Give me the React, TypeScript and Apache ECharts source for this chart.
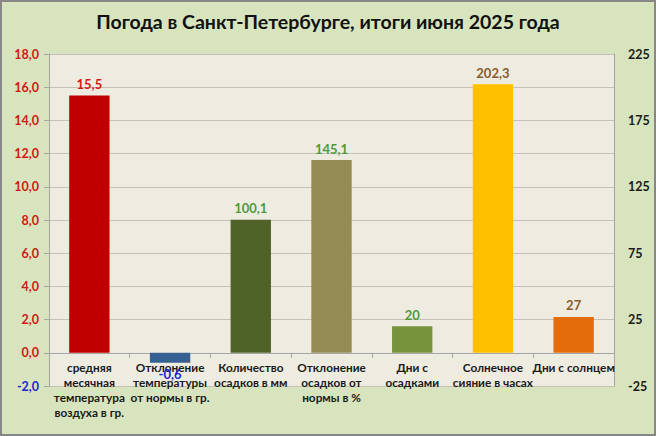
import React, { useEffect, useRef } from "react";
import * as echarts from "echarts";

// Monthly weather summary, St. Petersburg, June 2025
const categories = [
  "средняя\nмесячная\nтемпература\nвоздуха в гр.",
  "Отклонение\nтемпературы\nот нормы в гр.",
  "Количество\nосадков в мм",
  "Отклонение\nосадков от\nнормы в %",
  "Дни с\nосадками",
  "Солнечное\nсияние в часах",
  "Дни с солнцем",
];

// Temperature values (left axis, °C)
const temperatureValues: (number | null)[] = [15.5, -0.6, null, null, null, null, null];
// Precipitation / sunshine values (right axis)
const otherValues: (number | null)[] = [null, null, 100.1, 145.1, 20, 202.3, 27];

const barColors = ["#C00000", "#376092", "#4F6228", "#948A54", "#77933C", "#FFC000", "#E46C0A"];
const labelColors = ["#D01818", "#2424D0", "#4E9A3A", "#4E9A3A", "#4E9A3A", "#8B5A2B", "#8B5A2B"];

const leftTicks = { min: -2, max: 18, step: 2 };
const rightTicks = { min: -25, max: 225, step: 25, labelStep: 50 };

const FONT = "Lato, 'Liberation Sans', sans-serif";

const GRID_TOP = 54;
const GRID_BOTTOM = 50;
const CHART_H = 436;
// distance in pixels between the bottom of the plot (-2) and the zero line
const zeroOffset =
  ((CHART_H - GRID_TOP - GRID_BOTTOM) * (0 - leftTicks.min)) / (leftTicks.max - leftTicks.min);

const fmt = (v: number, digits?: number) =>
  (digits !== undefined ? v.toFixed(digits) : String(v)).replace(".", ",");

function buildData(values: (number | null)[]) {
  return values.map((v, i) => {
    if (v === null) return "-";
    const negative = v < 0;
    return {
      value: v,
      itemStyle: { color: barColors[i] },
      label: {
        show: true,
        position: negative ? "bottom" : "top",
        distance: 5,
        color: labelColors[i],
        fontWeight: "bold",
        fontSize: 13,
        fontFamily: FONT,
        formatter: () => fmt(v),
      },
    };
  });
}

export default function App() {
  const ref = useRef<HTMLDivElement>(null);

  useEffect(() => {
    document.body.style.margin = "0";
    if (!ref.current) return;
    const chart = echarts.init(ref.current, undefined, { renderer: "svg" });
    chart.setOption({
      animation: false,
      backgroundColor: "#D7E4BD",
      graphic: [
        {
          type: "rect",
          shape: { x: 1, y: 1, width: 654, height: 434 },
          style: { fill: "none", stroke: "#878787", lineWidth: 2 },
          silent: true,
          z: 100,
        },
      ],
      title: {
        text: "Погода в Санкт-Петербурге, итоги июня 2025 года",
        left: "center",
        top: 6,
        textStyle: {
          fontFamily: FONT,
          fontWeight: "bold",
          fontSize: 19.5,
          color: "#111111",
        },
      },
      grid: {
        left: 49,
        right: 42,
        top: GRID_TOP,
        bottom: GRID_BOTTOM,
        show: true,
        backgroundColor: "#EEECE1",
        borderWidth: 0,
        containLabel: false,
        outerBoundsMode: "none",
      },
      xAxis: {
        type: "category",
        data: categories,
        offset: -zeroOffset,
        axisLine: { show: true, onZero: false, lineStyle: { color: "#A6A6A6", width: 1 } },
        axisTick: { show: true, alignWithLabel: false, length: 5, lineStyle: { color: "#A6A6A6" } },
        axisLabel: {
          interval: 0,
          margin: 7,
          fontFamily: FONT,
          fontWeight: "bold",
          fontSize: 11.8,
          lineHeight: 15,
          color: "#1A1A1A",
        },
        splitLine: { show: false },
      },
      yAxis: [
        {
          type: "value",
          min: leftTicks.min,
          max: leftTicks.max,
          interval: leftTicks.step,
          position: "left",
          axisLine: { show: true, lineStyle: { color: "#A6A6A6" } },
          axisTick: { show: true, length: 5, lineStyle: { color: "#A6A6A6" } },
          axisLabel: {
            margin: 10,
            fontFamily: FONT,
            fontWeight: "bold",
            fontSize: 12.5,
            color: (v: any) => (Number(v) < 0 ? "#2424D0" : "#D01818"),
            formatter: (v: number) => fmt(v, 1),
          },
          splitLine: { show: true, lineStyle: { color: "#C4C2B8", width: 1 } },
        },
        {
          type: "value",
          min: rightTicks.min,
          max: rightTicks.max,
          interval: rightTicks.step,
          position: "right",
          axisLine: { show: true, lineStyle: { color: "#A6A6A6" } },
          axisTick: { show: false },
          axisLabel: {
            margin: 14,
            fontFamily: FONT,
            fontWeight: "bold",
            fontSize: 12.5,
            color: "#1A1A1A",
            formatter: (v: number) =>
              Math.round(v - rightTicks.min) % rightTicks.labelStep === 0 ? String(v) : "",
          },
          splitLine: { show: false },
        },
      ],
      series: [
        {
          name: "Температура",
          type: "bar",
          yAxisIndex: 0,
          barWidth: "50%",
          barGap: "-100%",
          data: buildData(temperatureValues),
        },
        {
          name: "Осадки и солнце",
          type: "bar",
          yAxisIndex: 1,
          barWidth: "50%",
          barGap: "-100%",
          data: buildData(otherValues),
        },
      ],
    });
    return () => chart.dispose();
  }, []);

  return <div ref={ref} style={{ width: 656, height: 436 }} />;
}
